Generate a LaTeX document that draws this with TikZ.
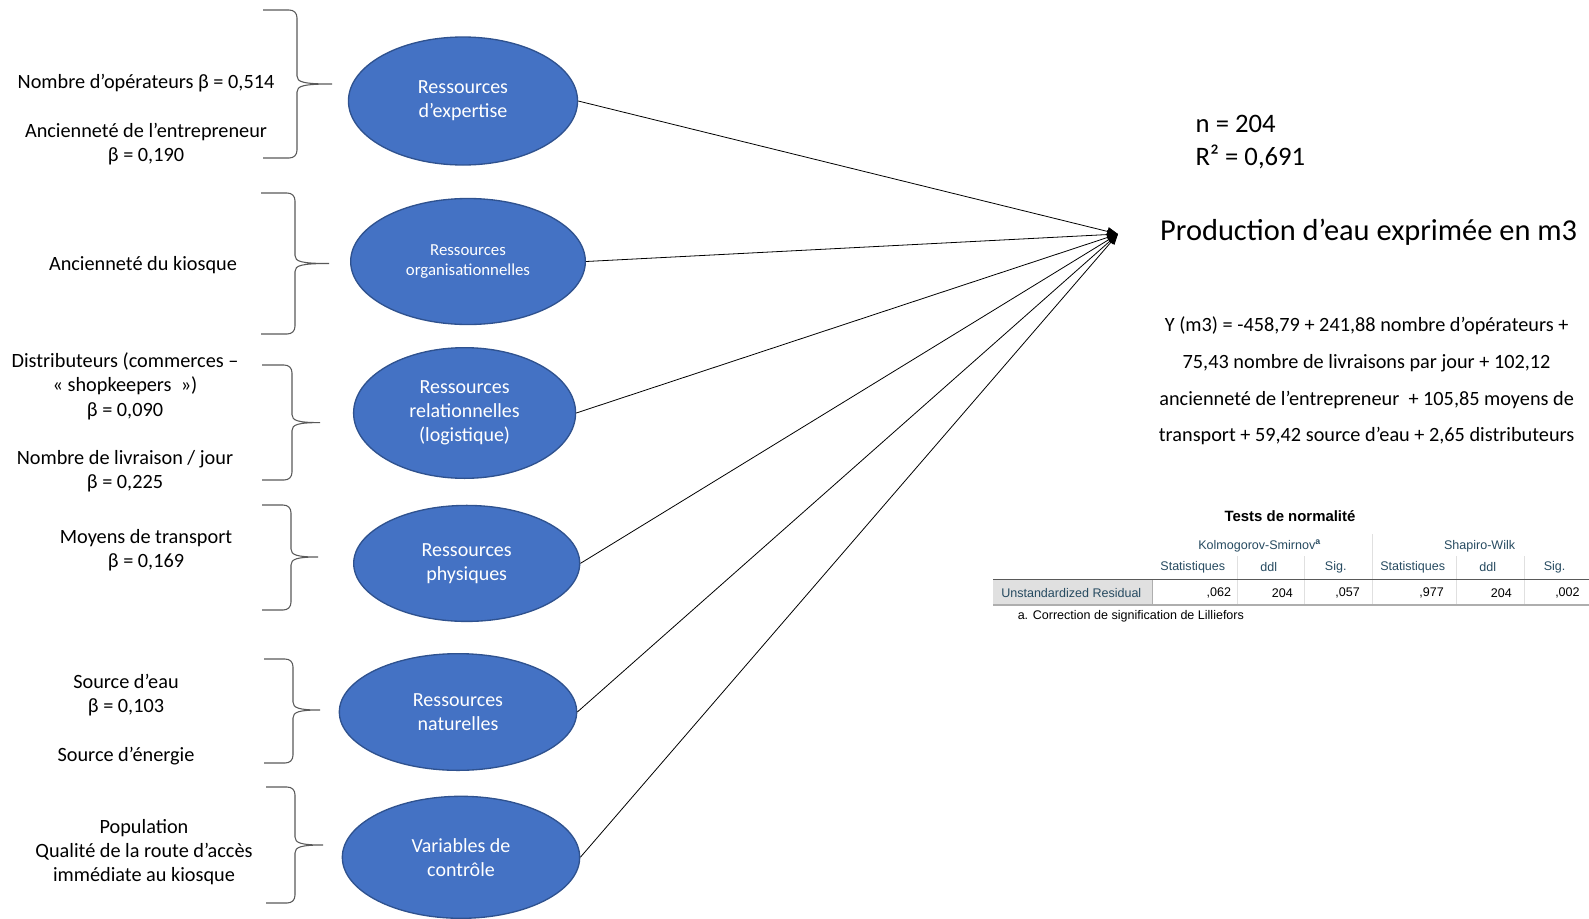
\documentclass[tikz,border=0pt]{standalone}
\usepackage{fontspec}
\setmainfont{Carlito}
\newfontfamily\spss{Liberation Sans}
\usetikzlibrary{shapes.geometric,arrows.meta}

% accolade: x debut, x verticale, x pointe, y haut, y milieu, y bas
\newcommand{\accolade}[6]{%
  \draw[braceLine] (#1,#4) -- (#2-8,#4) .. controls (#2-3,#4) and (#2,#4+3) .. (#2,#4+8)
    -- (#2,#5-8) .. controls (#2,#5-2) and (#2+6,#5) .. (#3,#5)
    .. controls (#2+6,#5) and (#2,#5+2) .. (#2,#5+8)
    -- (#2,#6-8) .. controls (#2,#6-3) and (#2-3,#6) .. (#2-8,#6) -- (#1,#6);}

\begin{document}
\begin{tikzpicture}[x=0.75pt, y=-0.75pt,
  ressource/.style={ellipse, draw=bordBleu, line width=1pt, fill=fondBleu, text=white,
    align=center, inner sep=0pt, font=\fontsize{15}{18.2}\selectfont},
  facteur/.style={align=center, font=\fontsize{15.2}{18.2}\selectfont},
  lien/.style={-{Triangle[length=8pt,width=6.5pt]}, line width=0.6pt},
  braceLine/.style={draw=grisAcc, line width=0.8pt},
  cellule/.style={inner sep=0pt, font=\spss\fontsize{9.4}{11}\selectfont},
  entete/.style={cellule, text=spssBleu}]

% Couleurs
\definecolor{fondBleu}{HTML}{4472C4}
\definecolor{bordBleu}{HTML}{2F528F}
\definecolor{grisAcc}{HTML}{595959}
\definecolor{spssBleu}{HTML}{264A60}
\definecolor{spssGris}{HTML}{E0E0E0}
\definecolor{spssLigne}{HTML}{AEAEAE}

\useasboundingbox (0,0) rectangle (1589,918);

% Ressources
\node[ressource, minimum width=171.8pt, minimum height=96pt] (expertise) at (463,101) {Ressources\\d’expertise};
\node[ressource, minimum width=176pt, minimum height=94.5pt, font=\fontsize{12.6}{15}\selectfont] (organis) at (468,261.5) {Ressources\\organisationnelles};
\node[ressource, minimum width=166.5pt, minimum height=98pt] (relation) at (464.6,413) {Ressources\\relationnelles\\(logistique)};
\node[ressource, minimum width=169.5pt, minimum height=87pt] (physique) at (466.7,563.4) {Ressources\\physiques};
\node[ressource, minimum width=178pt, minimum height=87.5pt] (naturel) at (458,712) {Ressources\\naturelles};
\node[ressource, minimum width=178pt, minimum height=91.5pt] (controle) at (461,857.3) {Variables de\\contrôle};

% Facteurs
\node[facteur] (f1) at (146,119.6) {Nombre d’opérateurs β = 0,514\\[\baselineskip]Ancienneté de l’entrepreneur\\β = 0,190};
\node[facteur] (f2) at (143,265.5) {Ancienneté du kiosque};
\node[facteur] (f3) at (125,422.6) {Distributeurs (commerces –\\« shopkeepers~~»)\\β = 0,090\\[\baselineskip]Nombre de livraison / jour\\β = 0,225};
\node[facteur] (f4) at (146,550.4) {Moyens de transport\\β = 0,169};
\node[facteur] (f5) at (126,719.5) {Source d’eau\\β = 0,103\\[\baselineskip]Source d’énergie};
\node[facteur] (f6) at (144,852) {Population\\Qualité de la route d’accès\\immédiate au kiosque};

% Accolades
\accolade{263}{297}{332}{10}{84}{158}
\accolade{261}{295}{329}{193}{263.5}{334}
\accolade{262}{292}{320}{365}{422.6}{480}
\accolade{262}{291}{318}{505}{557}{610}
\accolade{264}{293}{320}{659}{710}{763}
\accolade{266}{295}{323}{787}{845}{903}

% Variable dependante
\coordinate (prod) at (1118,234);
\node[font=\fontsize{22.8}{26}\selectfont] (titre) at (1368.6,232) {Production d’eau exprimée en m3};
\node[anchor=west, align=left, font=\fontsize{20}{24.3}\selectfont] (stats) at (1191,142) {n = 204\\R² = 0,691};

\foreach \r in {expertise,organis,relation,physique,naturel,controle}
  \draw[lien] (\r.east) -- (prod);

% Equation
\node[align=center, font=\fontsize{15.2}{27.4}\selectfont] (equation) at (1366.6,381) {Y (m3) = -458,79 + 241,88 nombre d’opérateurs +\\75,43 nombre de livraisons par jour + 102,12\\ancienneté de l’entrepreneur~~+ 105,85 moyens de\\transport + 59,42 source d’eau + 2,65 distributeurs};

% Tableau de normalite
\fill[spssGris] (993,580) rectangle (1152,605);
\foreach \x in {1237.4,1304.2,1456.3,1524.2}
  \draw[spssGris, line width=0.6pt] (\x,556) -- (\x,605);
\draw[spssGris, line width=0.6pt] (1372.1,534) -- (1372.1,605);
\draw[spssLigne, line width=0.6pt] (1152,580) -- (1152,605);
\draw[grisAcc, line width=1.4pt] (993,579.5) -- (1589,579.5);
\draw[spssLigne, line width=0.8pt] (993,605) -- (1589,605);

\node[cellule, font=\spss\bfseries\fontsize{11.2}{13}\selectfont] (tabTitre) at (1290,516) {Tests de normalité};
\node[entete] (ks) at (1259.6,546) {Kolmogorov-Smirnov\textsuperscript{\bfseries a}};
\node[entete] (sw) at (1479.6,546) {Shapiro-Wilk};
\node[entete] (h1) at (1192.8,567.5) {Statistiques};
\node[entete] (h2) at (1268.8,567.5) {ddl};
\node[entete] (h3) at (1335.7,567.5) {Sig.};
\node[entete] (h4) at (1412.7,567.5) {Statistiques};
\node[entete] (h5) at (1487.7,567.5) {ddl};
\node[entete] (h6) at (1554.6,567.5) {Sig.};
\node[entete, anchor=west] (lig) at (1001,592.8) {Unstandardized Residual};
\node[cellule, anchor=east] (v1) at (1231.3,592.8) {,062};
\node[cellule, anchor=east] (v2) at (1293.1,592.8) {204};
\node[cellule, anchor=east] (v3) at (1360,592.8) {,057};
\node[cellule, anchor=east] (v4) at (1444.1,592.8) {,977};
\node[cellule, anchor=east] (v5) at (1512,592.8) {204};
\node[cellule, anchor=east] (v6) at (1579.9,592.8) {,002};
\node[cellule, anchor=west] (note) at (1017.5,616) {a. Correction de signification de Lilliefors};
\end{tikzpicture}
\end{document}
